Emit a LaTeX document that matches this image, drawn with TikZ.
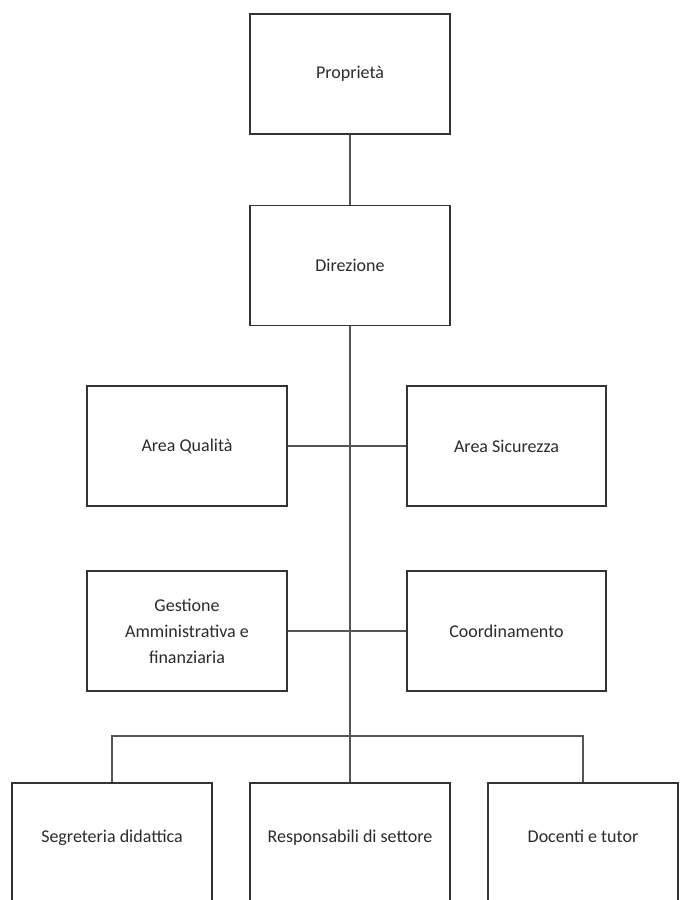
\documentclass[tikz,border=0pt]{standalone}
\usepackage{fontspec}
\setmainfont{Carlito}
\usepackage{tikz}
\definecolor{orgline}{HTML}{333333}
\definecolor{orglink}{HTML}{555555}
\definecolor{orgtext}{HTML}{2B2B2B}
\tikzset{
  unitbox/.style={draw=orgline, line width=1pt, fill=white, minimum width=5cm, minimum height=3cm,
    inner sep=0pt, align=center, text=orgtext, font=\fontsize{12.8}{18.5}\selectfont},
  lowbox/.style={unitbox, minimum height=3.1cm, text height=9pt, text depth=13pt},
  link/.style={draw=orglink, line width=0.8pt}
}

\begin{document}
\begin{tikzpicture}[x=0.025cm, y=-0.025cm]
  \clip (0,0) rectangle (679,900);
  \fill[white] (0,0) rectangle (679,900);

  % Top of the chart
  \node[unitbox] (prop) at (350,74) {Propriet\`a};
  \node[unitbox] (dir) at (350,265.5) {Direzione};

  % Staff areas
  \node[unitbox] (qual) at (187,446) {Area Qualit\`a};
  \node[unitbox, minimum width=4.975cm] (sicur) at (506.5,446) {Area Sicurezza};
  \node[unitbox] (gest) at (187,631) {Gestione\\Amministrativa e\\finanziaria};
  \node[unitbox, minimum width=4.975cm] (coord) at (506.5,631) {Coordinamento};

  % Bottom row (cut by the page)
  \node[lowbox] (segr) at (112,845) {Segreteria didattica};
  \node[lowbox] (resp) at (350,845) {Responsabili di settore};
  \node[lowbox, minimum width=4.75cm] (doc) at (583,845) {Docenti e tutor};
  \coordinate (hub) at (350,736);

  % Connectors
  \draw[link] (prop) -- (dir);
  \draw[link] (dir.south) -- (resp.north);
  \draw[link] (qual) -- (sicur);
  \draw[link] (gest) -- (coord);
  \draw[link] (segr.north) |- (hub) -| (doc.north);
\end{tikzpicture}
\end{document}
